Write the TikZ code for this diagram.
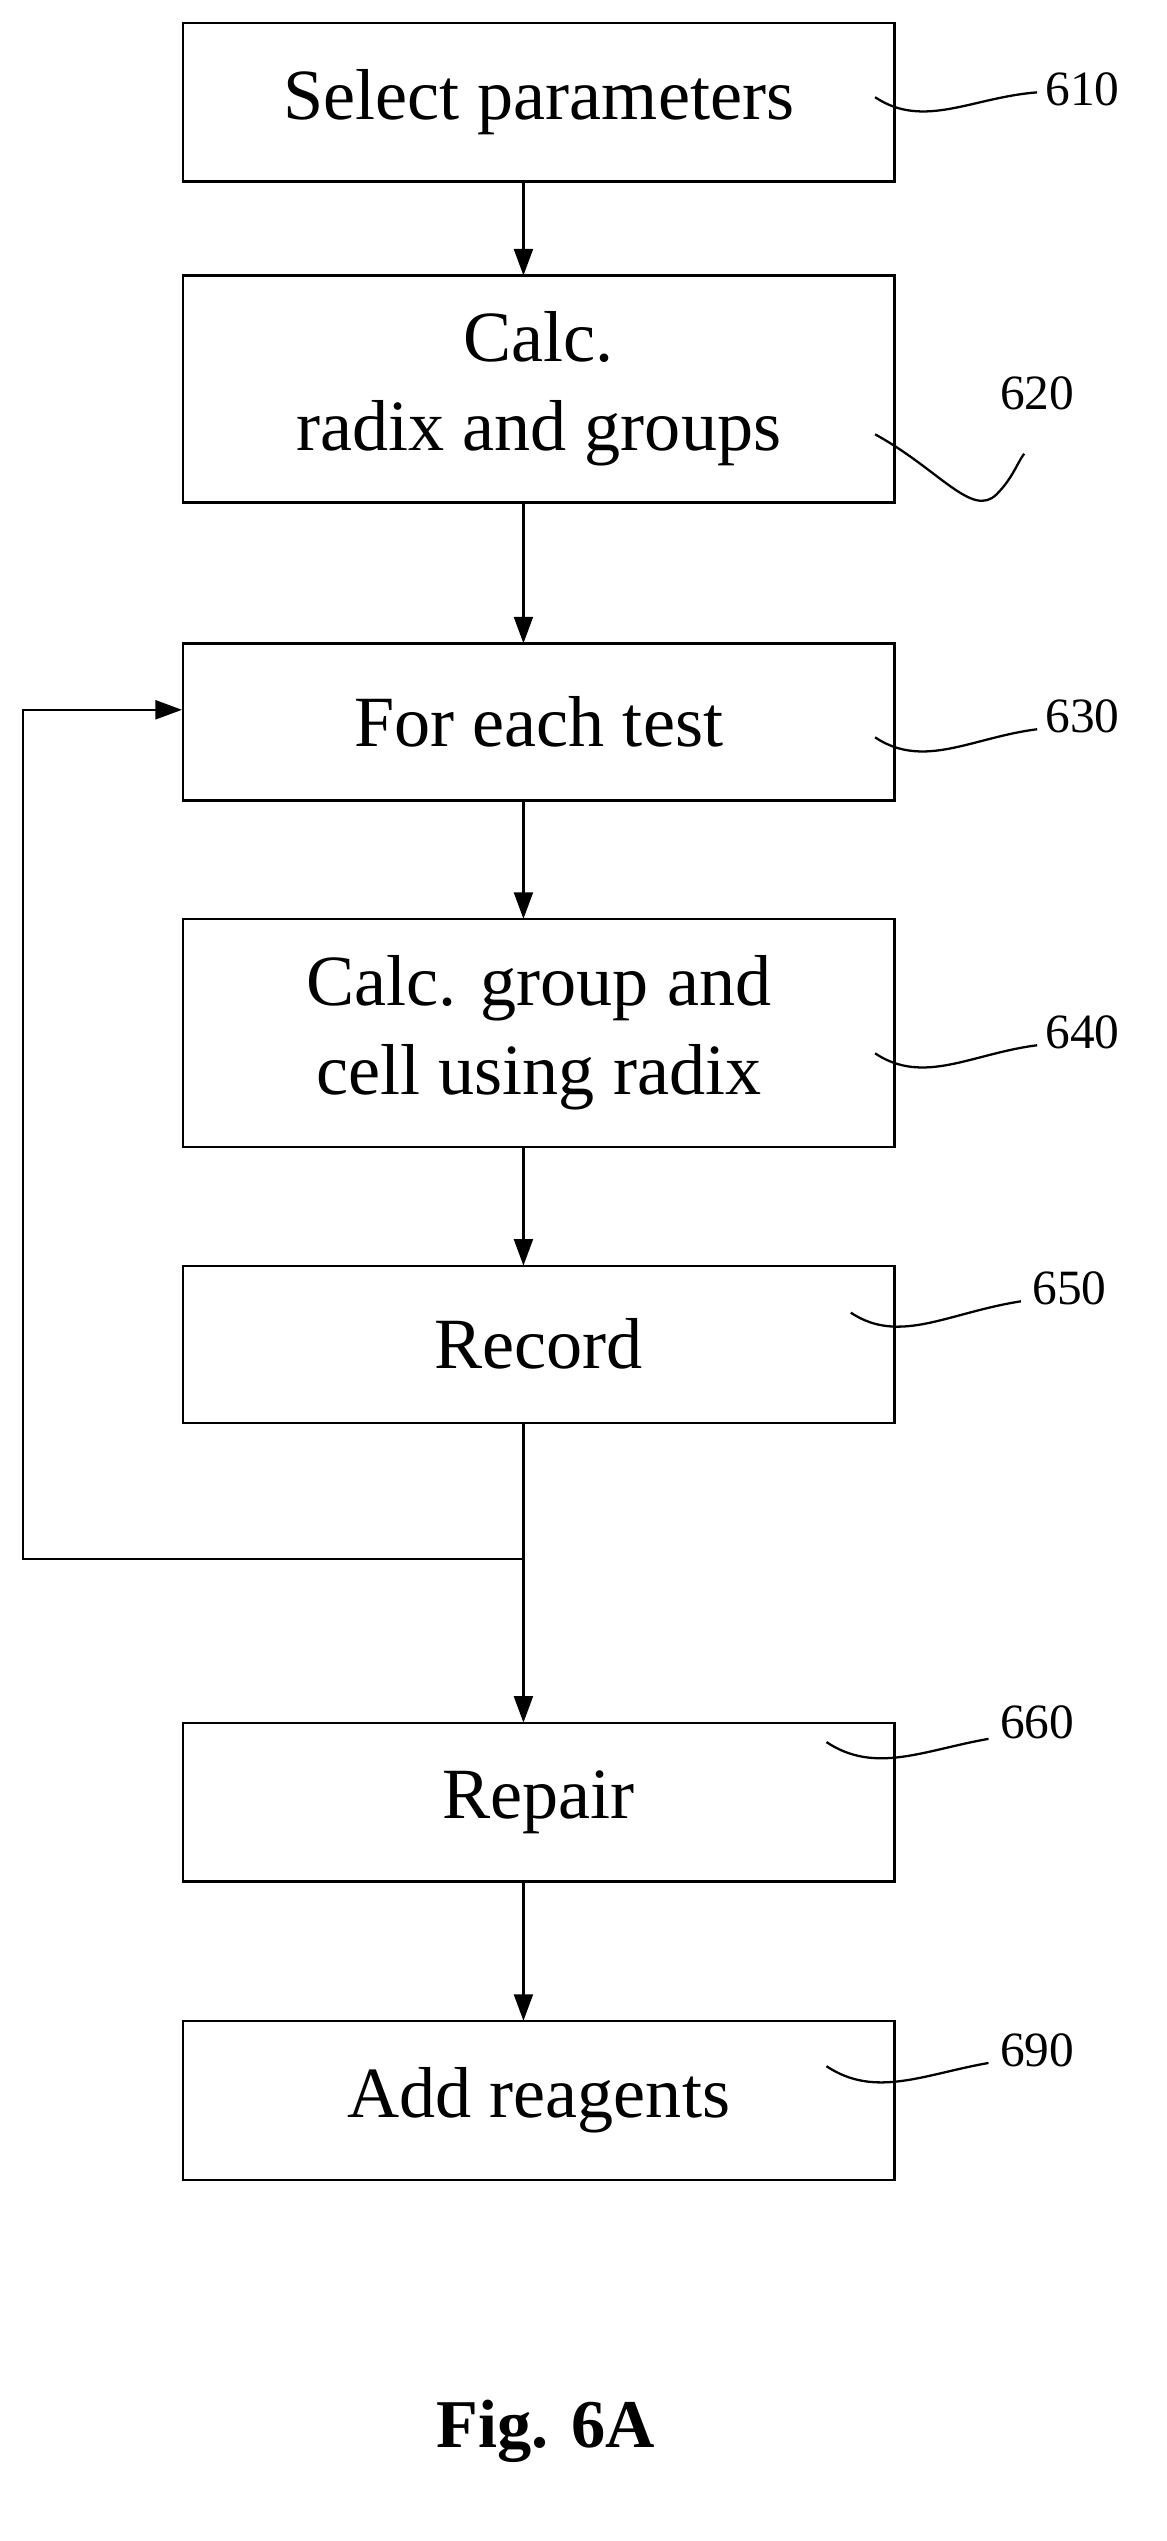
\documentclass[tikz,border=0pt]{standalone}
\usepackage{fontspec}
\setmainfont{Liberation Serif}
\usetikzlibrary{arrows.meta, positioning}

\begin{document}
\begin{tikzpicture}[
    x=0.03cm, y=-0.03cm,
    stepbox/.style={draw, line width=1.2pt, minimum width=439*0.03cm, align=center, font=\fontsize{38}{47}\selectfont, inner sep=0pt},
    arrow/.style={-{Triangle[length=14pt, width=10pt]}, line width=1.2pt},
    lead/.style={line width=1.2pt},
    num/.style={font=\fontsize{26}{30}\selectfont}
]
    \useasboundingbox (0,0) rectangle (720,1568);
    % Nodes
    \node[stepbox, minimum height=98*0.03cm] (select) at (332.5,63) {Select parameters};
    \node[stepbox, minimum height=140*0.03cm] (radix) at (332.5,240) {Calc.\\radix and groups};
    \node[stepbox, minimum height=97*0.03cm] (test) at (332.5,445.5) {For each test};
    \node[stepbox, minimum height=141*0.03cm] (cell) at (332.5,637.5) {Calc. group and\\cell using radix};
    \node[stepbox, minimum height=97*0.03cm] (record) at (332.5,829.5) {Record};
    \node[stepbox, minimum height=98*0.03cm] (repair) at (332.5,1112) {Repair};
    \node[stepbox, minimum height=98*0.03cm] (reagents) at (332.5,1296) {Add reagents};
    \coordinate (split) at (323,962);

    % Arrows
    \draw[arrow] (323,112) -- (323,170);
    \draw[arrow] (323,310) -- (323,397);
    \draw[arrow] (323,494) -- (323,567);
    \draw[arrow] (323,708) -- (323,781);
    \draw[arrow] (323,878) -- (323,1063);
    \draw[arrow] (323,1161) -- (323,1247);
    \draw[arrow] (split) -- (14,962) -- (14,438) -- (test.west |- 0,438);

    % Reference numerals
    \node[num] (n610) at (668,55) {610};
    \node[num] (n620) at (640,243) {620};
    \node[num] (n630) at (668,442) {630};
    \node[num] (n640) at (668,637) {640};
    \node[num] (n650) at (660,795) {650};
    \node[num] (n660) at (640,1063) {660};
    \node[num] (n690) at (640,1265) {690};
    \draw[lead] (540,60) .. controls (570,80) and (600,60) .. (640,57);
    \draw[lead] (540,268) .. controls (580,290) and (600,320) .. (615,305) .. controls (625,295) and (628,285) .. (632,280);
    \draw[lead] (540,455) .. controls (570,475) and (600,455) .. (640,450);
    \draw[lead] (540,650) .. controls (570,670) and (600,650) .. (640,645);
    \draw[lead] (525,810) .. controls (555,830) and (585,810) .. (630,803);
    \draw[lead] (510,1075) .. controls (540,1095) and (570,1080) .. (610,1073);
    \draw[lead] (510,1275) .. controls (540,1295) and (570,1280) .. (610,1273);

    \node[font=\fontsize{36}{42}\selectfont\bfseries] (caption) at (337,1500) {Fig. 6A};
\end{tikzpicture}
\end{document}
